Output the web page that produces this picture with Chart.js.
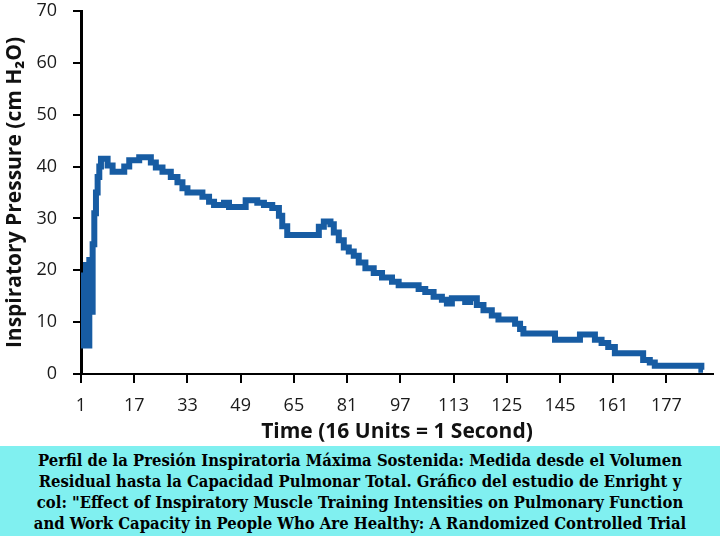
<!DOCTYPE html>
<html>
<head>
<meta charset="utf-8">
<script src="https://cdn.jsdelivr.net/npm/chart.js@4.4.1/dist/chart.umd.min.js"></script>
<style>
  html, body { margin: 0; padding: 0; background: #fff; }
  #wrap { width: 720px; height: 446px; }
  #caption {
    width: 720px; height: 90px; background: #80f0f0; box-sizing: border-box;
    padding-top: 4px; text-align: center; color: #000;
    font-family: 'DejaVu Serif Condensed', 'DejaVu Serif', serif; font-weight: bold;
    font-size: 16.5px; line-height: 21px; font-stretch: condensed; white-space: nowrap;
  }
</style>
</head>
<body>
<div id="wrap"><canvas id="chart" width="720" height="446"></canvas></div>
<div id="caption">Perfil de la Presión Inspiratoria Máxima Sostenida: Medida desde el Volumen<br>Residual hasta la Capacidad Pulmonar Total. Gráfico del estudio de Enright y<br>col: "Effect of Inspiratory Muscle Training Intensities on Pulmonary Function<br>and Work Capacity in People Who Are Healthy: A Randomized Controlled Trial</div>
<script>
// valores (16 unidades = 1 segundo)
const timeUnits = [1, 1.5, 2.5, 3, 3.5, 4, 4.5, 5, 5.5, 6, 6.5, 7, 9, 10.5, 14, 15.5, 18.5, 22, 23.5, 25.5,
  28, 30, 31.5, 33, 37.5, 39.5, 41, 44, 45.5, 50.5, 54, 56, 58.5, 60.5, 61.5, 63, 72.5, 74, 76, 77,
  78.5, 80, 81.5, 83, 84.5, 86.5, 89, 91.5, 94.5, 96.5, 102.5, 104.5, 107, 109.5, 111, 112.5, 116.5, 118, 120, 122,
  124.5, 126.5, 131.5, 133, 134, 143.5, 151, 155.5, 157.5, 159.5, 161.5, 170, 172, 173.5, 187.5, 188];
const pressure = [19, 5.5, 21, 5.5, 22, 12, 25, 31, 35, 38, 40, 41.5, 40.2, 39, 40, 41.2, 41.8, 40.8, 39.8, 39,
  38, 37, 35.8, 35, 34.2, 33.2, 32.6, 33, 32.2, 33.5, 33, 32.6, 32, 30.5, 28.5, 26.8, 28.4, 29.4, 28.9, 27.3,
  25.8, 24.4, 23.6, 22.8, 21.5, 20.4, 19.5, 18.6, 17.8, 17.1, 16.4, 15.8, 14.9, 14.3, 13.6, 14.6, 13.9, 14.6, 13.3, 12.3,
  11.3, 10.5, 9.7, 8.7, 7.8, 6.6, 7.6, 6.6, 6, 5.2, 4, 2.7, 2.2, 1.6, 0.8, 0.8];

const xTickValues = [1, 17, 33, 49, 65, 81, 97, 113, 129, 145, 161, 177];
const xTickLabels = ['1', '17', '33', '49', '65', '81', '97', '113', '125', '145', '161', '177'];
const yTickValues = [0, 10, 20, 30, 40, 50, 60, 70];

const points = timeUnits.map((t, i) => ({ x: t, y: pressure[i] }));
const tickFont = { family: "'Open Sans', sans-serif", size: 18 };
const titleFont = { family: "'Open Sans', sans-serif", size: 21, weight: 'bold' };

// marcas de los ejes (rayitas fuera del area)
const tickMarks = {
  id: 'tickMarks',
  afterDraw(chart) {
    const ctx = chart.ctx;
    const xs = chart.scales.x, ys = chart.scales.y;
    ctx.save();
    ctx.strokeStyle = '#000';
    ctx.lineWidth = 2;
    ctx.beginPath();
    xTickValues.forEach(v => {
      const px = Math.round(xs.getPixelForValue(v));
      ctx.moveTo(px, xs.top);
      ctx.lineTo(px, xs.top + 9);
    });
    yTickValues.forEach(v => {
      const py = Math.round(ys.getPixelForValue(v));
      ctx.moveTo(ys.right - 8, py);
      ctx.lineTo(ys.right, py);
    });
    ctx.stroke();
    ctx.restore();
  }
};

new Chart(document.getElementById('chart').getContext('2d'), {
  type: 'line',
  data: {
    datasets: [{
      data: points,
      borderColor: '#175ca3',
      borderWidth: 6,
      stepped: true,
      pointRadius: 0,
      fill: false
    }]
  },
  options: {
    responsive: false,
    animation: false,
    layout: { padding: { top: 11, right: 7, left: 0, bottom: 0 } },
    plugins: { legend: { display: false }, tooltip: { enabled: false } },
    scales: {
      x: {
        type: 'linear', min: 1, max: 191,
        afterBuildTicks: s => { s.ticks = xTickValues.map(v => ({ value: v })); },
        afterFit: s => { s.height = 72; s.paddingLeft = 0; s.paddingRight = 0; },
        ticks: { color: '#1a1a1a', font: tickFont, padding: 13, maxRotation: 0,
          callback: (v, i) => xTickLabels[i] },
        grid: { display: false },
        border: { display: true, color: '#000', width: 2 },
        title: { display: true, text: 'Time (16 Units = 1 Second)', color: '#111', font: titleFont,
          padding: { top: 0, bottom: 1 } }
      },
      y: {
        min: 0, max: 70,
        afterBuildTicks: s => { s.ticks = yTickValues.map(v => ({ value: v })); },
        afterFit: s => { s.width = 81; s.paddingTop = 0; s.paddingBottom = 0; },
        ticks: { color: '#1a1a1a', font: tickFont, padding: 16 },
        grid: { display: false },
        border: { display: true, color: '#000', width: 3 },
        title: { display: true, text: 'Inspiratory Pressure (cm H₂O)', color: '#111', font: titleFont,
          padding: { top: 2, bottom: 0 } }
      }
    }
  },
  plugins: [tickMarks]
});
</script>
</body>
</html>
